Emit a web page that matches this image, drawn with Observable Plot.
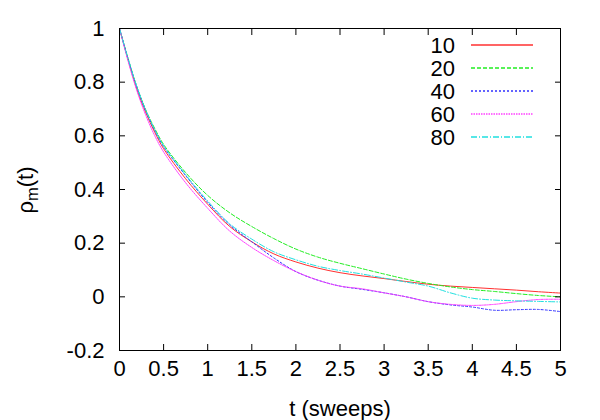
<!DOCTYPE html>
<html><head><meta charset="utf-8">
<script src="https://cdn.jsdelivr.net/npm/d3@7"></script>
<script src="https://cdn.jsdelivr.net/npm/@observablehq/plot@0.6"></script>
<style>
body{margin:0;background:#fff;font-family:"Liberation Sans",Arial,sans-serif;}
#wrap{position:relative;width:600px;height:420px;overflow:hidden;}
</style></head><body><div id="wrap"></div>
<script>
const t    = [0,0.1,0.2,0.3,0.4,0.5,0.75,1,1.25,1.5,1.75,2,2.25,2.5,2.75,3,3.25,3.5,3.75,4,4.25,4.5,4.75,5];
const s10  = [1,0.88,0.77,0.685,0.613,0.552,0.44,0.345,0.262,0.205,0.16,0.13,0.107,0.09,0.078,0.068,0.057,0.047,0.04,0.035,0.03,0.025,0.019,0.014];
const s20  = [1,0.885,0.78,0.695,0.627,0.568,0.463,0.378,0.313,0.262,0.217,0.178,0.148,0.125,0.105,0.085,0.066,0.05,0.037,0.027,0.02,0.012,0.005,0.0];
const s40  = [1,0.883,0.778,0.692,0.62,0.56,0.452,0.352,0.268,0.205,0.145,0.094,0.062,0.04,0.028,0.015,0.0,-0.018,-0.03,-0.038,-0.05,-0.048,-0.047,-0.055];
const s60  = [1,0.875,0.765,0.675,0.6,0.54,0.425,0.33,0.245,0.184,0.135,0.094,0.062,0.04,0.03,0.015,0.0,-0.018,-0.028,-0.032,-0.028,-0.018,-0.01,-0.009];
const s80  = [1,0.885,0.78,0.693,0.622,0.563,0.455,0.357,0.272,0.215,0.168,0.138,0.114,0.098,0.085,0.07,0.055,0.04,0.015,-0.005,-0.012,-0.015,-0.017,-0.019];

const seriesNames  = ["10","20","40","60","80"];
const seriesValues = [s10,s20,s40,s60,s80];
const seriesColors = ["#ff3030","#22ee22","#3030ff","#ff40ff","#20e0e0"];
const seriesDash   = ["none","4,2","2,2","1.5,1","6,2,1,2"];

const xTicks = [0,0.5,1,1.5,2,2.5,3,3.5,4,4.5,5];
const xTickLabels = ["0","0.5","1","1.5","2","2.5","3","3.5","4","4.5","5"];
const yTicks = [-0.2,0,0.2,0.4,0.6,0.8,1];
const yTickLabels = ["-0.2","0","0.2","0.4","0.6","0.8","1"];

const FONT = 22;
const W = 600, H = 420, mL = 119, mR = 40, mT = 28, mB = 70;

const lineMarks = seriesNames.map((name, i) =>
  Plot.line(t.map((tt, j) => ({t: tt, v: seriesValues[i][j]})), {
    x: "t", y: "v", stroke: seriesColors[i], strokeWidth: 1,
    strokeDasharray: seriesDash[i], curve: "catmull-rom"
  })
);

const plot = Plot.plot({
  width: W, height: H,
  marginLeft: mL, marginRight: mR, marginTop: mT, marginBottom: mB,
  style: {fontFamily: '"Liberation Sans", Arial, sans-serif', fontSize: FONT + "px", background: "#fff", color: "#000"},
  x: {domain: [0, 5]},
  y: {domain: [-0.2, 1]},
  marks: [
    ...lineMarks,
    Plot.frame({stroke: "#000", strokeWidth: 1}),
    Plot.axisX(xTicks, {anchor: "bottom", tickSize: -6, tickFormat: () => "", label: null}),
    Plot.axisX(xTicks, {anchor: "top", tickSize: -6, tickFormat: () => "", label: null}),
    Plot.axisY(yTicks, {anchor: "left", tickSize: -6, tickFormat: () => "", label: null}),
    Plot.axisY(yTicks, {anchor: "right", tickSize: -6, tickFormat: () => "", label: null}),
    Plot.axisX(xTicks, {anchor: "bottom", tickSize: 0, tickPadding: 10, label: null,
      tickFormat: (d) => xTickLabels[xTicks.indexOf(d)], fontSize: FONT}),
    Plot.axisY(yTicks, {anchor: "left", tickSize: 0, tickPadding: 15, label: null,
      tickFormat: (d) => yTickLabels[yTicks.indexOf(d)], fontSize: FONT})
  ]
});

const wrap = document.getElementById("wrap");
wrap.appendChild(plot);

const svg = d3.select(plot);
// x title
svg.append("text")
  .attr("x", 340).attr("y", 416)
  .attr("text-anchor", "middle")
  .attr("font-size", FONT).attr("fill", "#000")
  .text("t (sweeps)");
// y title with subscript
const yt = svg.append("text")
  .attr("transform", "translate(33,190) rotate(-90)")
  .attr("text-anchor", "middle")
  .attr("font-size", FONT).attr("fill", "#000");
yt.append("tspan").text("ρ");
yt.append("tspan").attr("font-size", FONT * 0.75).attr("dy", 5).text("m");
yt.append("tspan").attr("dy", -5).text("(t)");

// legend (inside the plot svg)
const lg = svg.append("g").attr("class", "legend");
seriesNames.forEach((name, i) => {
  const y = 45 + i * 23;
  lg.append("text").attr("x", 455).attr("y", y).attr("dy", "0.36em")
    .attr("text-anchor", "end").attr("font-size", FONT).attr("fill", "#000")
    .text(name);
  lg.append("path").attr("d", `M471,${y}H533`)
    .attr("fill", "none")
    .attr("stroke", seriesColors[i]).attr("stroke-width", 1.4)
    .attr("stroke-dasharray", seriesDash[i]);
});
</script></body></html>
